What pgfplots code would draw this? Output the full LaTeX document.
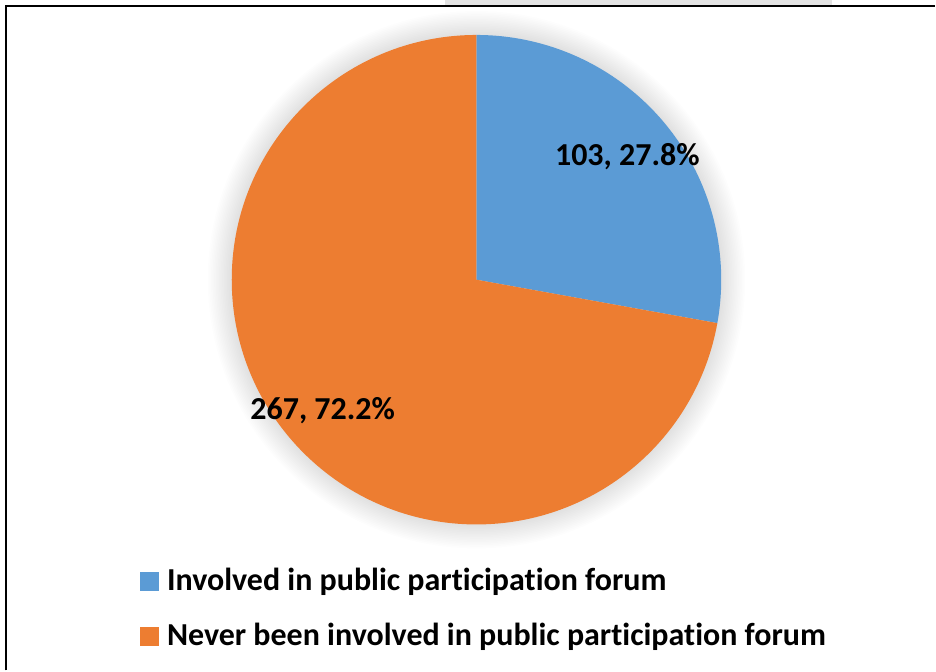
\documentclass[border=0pt]{standalone}
\usepackage{pgfplots}
\pgfplotsset{compat=1.18}
\usepackage{pgfplotstable}
\usepackage{fontspec}
\setmainfont{Carlito}[Ligatures=CommonOff]

\definecolor{pieblue}{HTML}{5B9BD5}
\definecolor{pieorange}{HTML}{ED7D31}
\definecolor{tabgray}{HTML}{E3E3E3}

% respondents per answer
\pgfplotstableread{
label value
Involved 103
Never 267
}\piedata

\begin{document}
\begin{tikzpicture}
\pgfplotstablegetelem{0}{value}\of\piedata \let\va\pgfplotsretval
\pgfplotstablegetelem{1}{value}\of\piedata \let\vb\pgfplotsretval
\pgfmathsetmacro{\angA}{\va/(\va+\vb)*360}
\pgfmathsetmacro{\angB}{\vb/(\va+\vb)*360}
\begin{axis}[
    x=122.5pt, y=122.5pt,
    xmin=-1.9469, xmax=1.8735,
    ymin=-1.5959, ymax=1.1429,
    hide axis,
    clip=false,
    legend image code/.code={\fill[#1] (0pt,0pt) rectangle (9pt,9pt);},
    legend style={
        at={(axis cs:-1.3755,-1.1918)}, anchor=north west,
        draw=none, fill=none, inner sep=0pt,
        row sep=15.5pt, column sep=4pt,
        nodes={inner sep=0pt, text height=9pt, text depth=3pt},
        cells={anchor=base west},
        font=\bfseries\fontsize{16}{19}\selectfont,
    },
]
\addlegendimage{pieblue}
\addlegendentry{Involved in public participation forum}
\addlegendimage{pieorange}
\addlegendentry{Never been involved in public participation forum}

% page edge and frame
\path (rel axis cs:0,0) rectangle (rel axis cs:1,1);
\fill[tabgray] (rel axis cs:0.4754,0.9903) rectangle (rel axis cs:0.8900,1);
\draw[line width=1pt] (rel axis cs:0.00694,0) -- (rel axis cs:0.00694,0.99031) -- (rel axis cs:1,0.99031);

% soft shadow
\pgfplotsinvokeforeach{1,...,15}{
    \fill[black, opacity=0.008] (axis cs:0,0) circle[radius=122.5pt+0.8*#1pt];
}

% slices
\fill[pieblue] (axis cs:0,0) -- (axis cs:0,1)
    arc[start angle=90, delta angle=-\angA, radius=122.5pt] -- cycle;
\fill[pieorange] (axis cs:0,0) -- (axis cs:0,1)
    arc[start angle=90, delta angle=\angB, radius=122.5pt] -- cycle;

% data labels
\node[font=\bfseries\fontsize{16}{19}\selectfont] at (axis cs:0.6163,0.502) {103, 27.8\%};
\node[font=\bfseries\fontsize{16}{19}\selectfont] at (axis cs:-0.6286,-0.5347) {267, 72.2\%};
\end{axis}
\end{tikzpicture}
\end{document}
